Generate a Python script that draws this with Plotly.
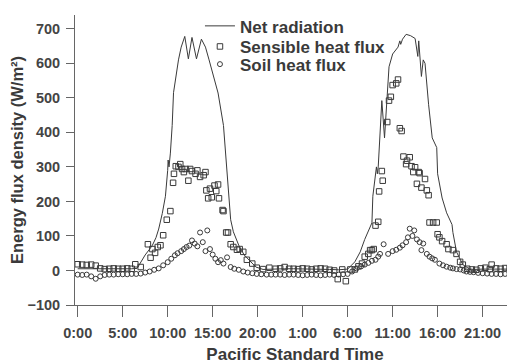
import plotly.graph_objects as go

# ---------------- data (hours since 0:00 of day 1) ----------------
net_hours = [0.0, 1.0, 2.0, 3.0, 4.0, 5.0, 6.0, 6.6, 7.0, 7.5, 8.0, 8.3, 8.7, 9.0, 9.4, 9.75,
             10.0, 10.05, 10.15, 10.3, 10.5, 10.65, 11.2, 11.5, 11.9, 12.3, 12.7, 13.2, 13.75,
             14.2, 14.6, 15.6, 16.2, 16.6, 17.0, 17.3, 17.9, 18.5, 19.2, 19.8, 20.6, 21.5, 22.0,
             23.0, 24.0, 25.0, 26.0, 27.0, 28.0, 29.0, 30.0, 30.8, 31.4, 31.9, 32.7, 32.8, 33.2,
             33.3, 33.4, 33.8, 34.1, 34.6, 35.0, 35.6, 35.8, 35.9, 36.1, 36.5, 37.0, 37.5, 37.8,
             37.9, 38.1, 38.2, 38.4, 38.6, 39.0, 39.4, 39.9, 40.0, 40.5, 41.0, 41.6, 41.7, 42.1,
             42.8, 43.5, 44.0, 45.0, 46.0, 47.0, 48.0]
net_values = [5, 5, 3, 5, 5, 5, 5, 6, 25, 45, 62, 73, 95, 120, 165, 215,
              290, 320, 300, 340, 420, 515, 610, 647, 678, 613, 675, 613, 670,
              647, 610, 514, 420, 280, 147, 112, 73, 45, 25, 10, 3, 4, 6,
              5, 5, 5, 4, 5, 3, 2, 4, 25, 54, 90, 138, 215, 300,
              280, 300, 492, 384, 590, 627, 647, 665, 655, 670, 684, 680, 672, 620,
              665, 600, 562, 610, 600, 480, 384, 356, 280, 210, 167, 133, 110, 54,
              17, 5, 3, 4, 5, 4, 4]

sensible_hours = [0.0, 0.5, 1.0, 1.5, 2.0, 2.5, 3.0, 3.5, 4.0, 4.5, 5.0, 5.5, 6.0, 6.4, 7.0,
                  7.8, 8.1, 8.3, 8.6, 8.9, 9.2, 9.5, 9.9, 10.3, 10.6, 10.7, 10.9, 11.2, 11.4,
                  11.6, 11.8, 12.0, 12.3, 12.5, 12.7, 13.1, 13.3, 13.6, 14.0, 14.2, 14.3, 14.5,
                  14.7, 14.9, 15.2, 15.4, 15.6, 15.7, 16.1, 16.2, 16.5, 16.7, 17.0, 17.3, 17.7,
                  18.0, 18.4, 18.8, 19.4, 19.9, 20.6, 21.3, 22.0, 22.5, 23.0, 23.5, 24.0, 24.5,
                  25.0, 25.5, 26.0, 26.5, 27.0, 27.5, 28.0, 28.5, 28.9, 29.4, 29.8, 30.3, 30.8,
                  31.2, 31.6, 31.9, 32.3, 32.5, 32.7, 32.9, 33.1, 33.4, 33.5, 33.8, 33.9, 34.4,
                  34.6, 34.8, 35.0, 35.4, 35.6, 35.8, 36.0, 36.2, 36.5, 36.6, 36.9, 37.1, 37.3,
                  37.5, 37.7, 37.9, 38.0, 38.2, 38.6, 38.8, 39.0, 39.1, 39.5, 39.9, 40.0, 40.2,
                  40.5, 41.0, 41.2, 41.7, 42.1, 42.5, 42.8, 43.3, 43.8, 44.3, 44.8, 45.3, 45.8,
                  46.0, 46.5, 47.0, 47.5, 48.0]
sensible_values = [18, 17, 16, 17, 14, 6, 4, 5, 6, 5, 5, 6, 5, 18, 10,
                   76, 37, 62, 51, 68, 73, 102, 147, 172, 254, 280, 302, 300, 308,
                   294, 285, 294, 260, 294, 288, 280, 290, 271, 276, 285, 232, 209,
                   237, 212, 246, 230, 249, 209, 175, 172, 110, 110, 76, 68, 60,
                   62, 54, 31, 20, 8, 4, 8, 5, 6, 10, 5, 5, 4,
                   6, 5, 3, 5, 6, 5, 2, 0, -25, 3, -31, 3, 3,
                   12, 20, 40, 48, 59, 59, 62, 130, 141, 229, 288, 260, 430,
                   492, 503, 537, 542, 553, 412, 404, 330, 308, 318, 328, 302, 285,
                   299, 251, 285, 282, 240, 265, 232, 218, 139, 139, 139, 105, 96,
                   85, 76, 62, 59, 48, 25, 17, 5, 3, 2, 6, 8, 4,
                   17, 6, 5, 7, 6]

soil_hours = [0.0, 0.5, 1.0, 1.5, 2.0, 2.5, 3.0, 3.5, 4.0, 4.5, 5.0, 5.5, 6.0, 6.5, 7.0, 7.5,
              8.0, 8.5, 9.0, 9.5, 10.0, 10.4, 10.8, 11.1, 11.5, 11.8, 12.1, 12.4, 12.7, 13.0,
              13.3, 13.6, 13.9, 14.2, 14.4, 14.7, 15.0, 15.3, 15.6, 15.9, 16.2, 16.6, 17.0,
              17.4, 17.9, 18.4, 18.9, 19.4, 19.9, 20.4, 21.0, 21.5, 22.0, 22.5, 23.0, 23.5,
              24.0, 24.5, 25.0, 25.5, 26.0, 26.5, 27.0, 27.5, 28.0, 28.5, 29.0, 29.5, 30.0,
              30.5, 31.0, 31.5, 31.9, 32.3, 32.7, 33.1, 33.4, 33.6, 34.0, 34.5, 35.0, 35.4,
              35.8, 36.1, 36.5, 36.7, 36.9, 37.2, 37.4, 37.7, 38.0, 38.2, 38.4, 38.8, 39.1,
              39.4, 39.7, 40.2, 40.6, 41.0, 41.4, 41.7, 42.1, 42.5, 42.9, 43.2, 43.6, 44.0,
              44.5, 45.0, 45.5, 46.0, 46.5, 47.0, 47.5, 48.0]
soil_values = [-12, -13, -12, -17, -24, -17, -13, -12, -12, -11, -11, -11, -10, -10, -9, -6,
               -3, 2, 6, 15, 24, 34, 44, 50, 56, 62, 68, 72, 87, 78,
               70, 110, 82, 56, 116, 62, 46, 34, 24, 30, 20, 38, 10,
               5, 2, -3, -6, -8, -10, -11, -12, -12, -12, -12, -13, -12,
               -12, -13, -14, -13, -12, -13, -14, -13, -12, -13, -12, -11, -10,
               -3, 6, 12, 17, 22, 28, 31, 40, 48, 76, 48, 56, 60,
               66, 73, 82, 96, 121, 100, 116, 90, 82, 59, 78, 48, 40,
               35, 31, 20, 15, 11, 8, 6, 4, 3, 0, -3, -4, -5,
               -7, -8, -9, -10, -10, -11, -10, -10]

tick_hours = [0, 5, 10, 15, 20, 25, 30, 35, 40, 45]
tick_labels = ["0:00", "5:00", "10:00", "15:00", "20:00", "1:00", "6:00", "11:00", "16:00", "21:00"]
y_ticks = [-100, 0, 100, 200, 300, 400, 500, 600, 700]

# ---------------- figure ----------------
ink = "#3a3a3a"
font_family = "Liberation Sans, Arial, Helvetica, sans-serif"

fig = go.Figure()
fig.add_trace(go.Scatter(x=net_hours, y=net_values, mode="lines", name="Net radiation",
                         line=dict(color=ink, width=1), legend="legend"))
fig.add_trace(go.Scatter(x=sensible_hours, y=sensible_values, mode="markers",
                         name="Sensible heat flux",
                         marker=dict(symbol="square-open", size=5.5, color=ink, line=dict(width=1)),
                         legend="legend2"))
fig.add_trace(go.Scatter(x=soil_hours, y=soil_values, mode="markers", name="Soil heat flux",
                         marker=dict(symbol="circle-open", size=5, color=ink, line=dict(width=1)),
                         legend="legend3"))

legend_common = dict(x=0.284, xanchor="left", yanchor="middle", bgcolor="rgba(0,0,0,0)",
                     borderwidth=0, font=dict(family=font_family, size=17, color=ink, weight="bold"),
                     itemwidth=30)

# the page body has an 8px margin, so the figure is sized to fill the rest of the window
fig.update_layout(
    width=507, height=356,
    margin=dict(l=67, r=0, t=0, b=59),
    paper_bgcolor="white", plot_bgcolor="white",
    font=dict(family=font_family, color=ink),
    showlegend=True,
    legend=dict(y=0.961, **legend_common),
    legend2=dict(y=0.890, **legend_common),
    legend3=dict(y=0.829, **legend_common),
    xaxis=dict(
        range=[-0.3, 48.6], tickmode="array", tickvals=tick_hours, ticktext=tick_labels,
        showgrid=False, zeroline=False, showline=True, linecolor="#666", linewidth=1,
        ticks="outside", ticklen=11, tickcolor="#666", tickwidth=1, ticklabelstandoff=4,
        tickfont=dict(family=font_family, size=14.5, color="#444", weight="bold"),
        title=dict(text="Pacific Standard Time", standoff=8,
                   font=dict(family=font_family, size=17, color=ink, weight="bold")),
    ),
    yaxis=dict(
        range=[-100, 740], tickmode="array", tickvals=y_ticks,
        showgrid=False, zeroline=False, showline=True, linecolor="#666", linewidth=1,
        ticks="outside", ticklen=8, tickcolor="#666", tickwidth=1, ticklabelstandoff=3,
        tickfont=dict(family=font_family, size=14.5, color="#444", weight="bold"),
        title=dict(text="Energy flux density (W/m²)", standoff=1,
                   font=dict(family=font_family, size=16.5, color=ink, weight="bold")),
    ),
)

fig.write_html("out.html")
